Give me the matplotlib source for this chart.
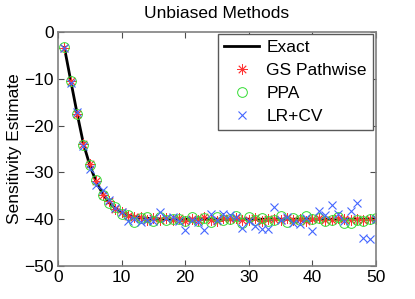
import matplotlib
matplotlib.use("Agg")
import matplotlib.pyplot as plt

plt.rcParams['font.family'] = ['Liberation Sans', 'DejaVu Sans']

x = list(range(1, 51))

# exact sensitivity curve
exact = [-3.3, -10.4, -17.4, -23.9, -28.5, -32.0, -34.5, -36.4, -37.7, -38.6,
         -39.2, -39.5, -39.7, -39.8, -39.9, -39.95, -40.0, -40.0, -40.0, -40.0,
         -40.0, -40.0, -40.0, -40.0, -40.0, -40.0, -40.0, -40.0, -40.0, -40.0,
         -40.0, -40.0, -40.0, -40.0, -40.0, -40.0, -40.0, -40.0, -40.0, -40.0,
         -40.0, -40.0, -40.0, -40.0, -40.0, -40.0, -40.0, -40.0, -40.0, -40.0]

gs_pathwise = [-3.4, -10.5, -17.5, -24.0, -28.3, -31.8, -34.8, -36.2, -37.9, -38.5,
               -39.3, -39.6, -39.5, -40.1, -39.7, -40.2, -39.8, -40.1, -39.7, -40.3,
               -39.9, -40.2, -39.6, -40.1, -40.3, -39.8, -40.0, -39.7, -40.2, -40.1,
               -39.8, -40.3, -40.0, -39.9, -40.2, -39.7, -40.1, -39.9, -40.3, -40.0,
               -39.8, -40.2, -40.1, -39.7, -40.0, -40.2, -39.9, -40.1, -40.0, -39.9]

ppa = [-3.2, -10.4, -17.6, -24.1, -28.4, -31.7, -34.9, -36.5, -37.5, -38.9,
       -39.0, -40.6, -39.8, -39.6, -40.3, -39.5, -40.2, -39.9, -40.0, -40.4,
       -39.5, -40.3, -39.8, -40.5, -39.6, -40.2, -39.9, -39.4, -40.9, -39.6,
       -40.2, -39.8, -40.4, -40.1, -39.3, -40.5, -39.7, -40.2, -39.4, -40.0,
       -39.7, -40.4, -40.1, -39.6, -40.9, -40.8, -40.1, -40.3, -40.0, -39.7]

lr_cv = [-3.5, -10.8, -17.0, -24.3, -29.3, -32.6, -33.8, -36.0, -37.6, -38.4,
         -40.3, -40.0, -40.5, -40.2, -40.4, -38.5, -39.8, -39.5, -40.3, -42.3,
         -40.2, -40.5, -42.4, -38.9, -40.1, -38.8, -39.2, -39.5, -41.9, -40.3,
         -41.4, -42.0, -42.1, -37.4, -40.2, -39.6, -40.8, -41.0, -39.7, -42.6,
         -38.3, -39.1, -36.9, -38.8, -40.4, -38.3, -36.5, -44.0, -44.3, -40.0]

FS = 12.5

fig = plt.figure(figsize=(4.15, 2.99), dpi=100)
ax = fig.add_axes([0.1398, 0.1104, 0.7663, 0.7826])

ax.plot(x, exact, color='black', lw=2, label='Exact')
# MATLAB-style asterisk
ax.plot(x, gs_pathwise, ls='none', marker=(8, 2, 0), ms=7.5, mec='#ff3333',
        mew=0.6, label='GS Pathwise')
ax.plot(x, ppa, ls='none', marker='o', ms=7, mfc='none', mec='#33dd33',
        mew=0.7, label='PPA')
ax.plot(x, lr_cv, ls='none', marker='x', ms=6, mec='#4466ff', mew=0.8,
        label='LR+CV')

ax.set_xlim(0, 50)
ax.set_ylim(-50, 0)
ax.set_xticks(range(0, 51, 10))
ax.set_yticks(range(-50, 1, 10))
ax.tick_params(direction='in', top=True, right=True, labelsize=FS, length=4,
               color='0.3', pad=3)
for s in ax.spines.values():
    s.set_color('0.5')
    s.set_linewidth(1.2)

ax.set_title('Unbiased Methods', fontsize=FS, pad=10)
ax.set_ylabel('Sensitivity Estimate', fontsize=FS, labelpad=2)

leg = ax.legend(loc='upper right', bbox_to_anchor=(0.995, 0.998), fontsize=FS,
                fancybox=False, framealpha=1, edgecolor='0.35',
                borderaxespad=0.1, labelspacing=0.45, handlelength=2.0,
                handletextpad=0.4, borderpad=0.35)
leg.get_frame().set_linewidth(1.0)

fig.savefig('out.png', dpi=100)
